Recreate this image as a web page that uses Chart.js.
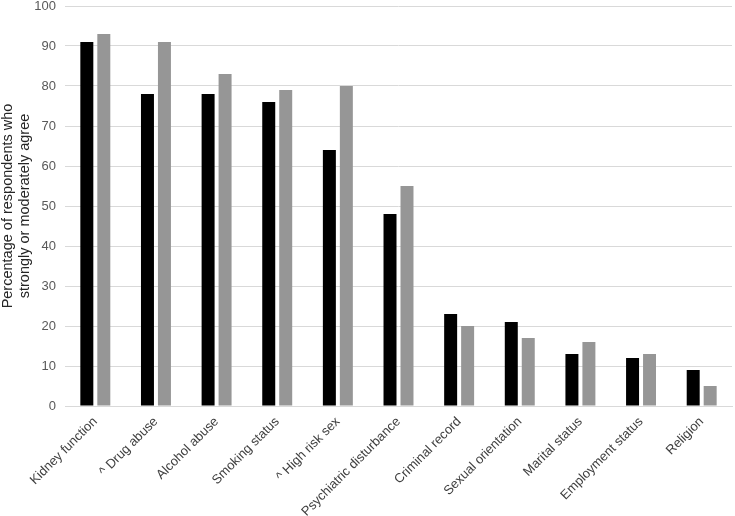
<!DOCTYPE html>
<html>
<head>
<meta charset="utf-8">
<script src="https://cdn.jsdelivr.net/npm/chart.js@4/dist/chart.umd.min.js"></script>
<style>
html,body{margin:0;padding:0;background:#fff;}
#wrap{width:735px;height:516px;}
</style>
</head>
<body>
<div id="wrap"><canvas id="c" width="735" height="516"></canvas></div>
<script>
const categories = ["Kidney function", "^ Drug abuse", "Alcohol abuse", "Smoking status", "^ High risk sex", "Psychiatric disturbance", "Criminal record", "Sexual orientation", "Marital status", "Employment status", "Religion"];
const seriesBlack = [91, 78, 78, 76, 64, 48, 23, 21, 13, 12, 9];
const seriesGray = [93, 91, 83, 79, 80, 55, 20, 17, 16, 13, 5];
const yTitle = ["Percentage of respondents who", "strongly or moderately agree"];

const FONT = 'Liberation Sans, Arial, sans-serif';

new Chart(document.getElementById('c'), {
  type: 'bar',
  data: {
    labels: categories,
    datasets: [
      { label: 'Series 1', data: seriesBlack, backgroundColor: '#000000', categoryPercentage: 0.56, barPercentage: 0.765 },
      { label: 'Series 2', data: seriesGray, backgroundColor: '#969696', categoryPercentage: 0.56, barPercentage: 0.765 }
    ]
  },
  options: {
    responsive: false,
    animation: false,
    layout: { padding: { top: 0, right: 3, bottom: 0, left: 0 } },
    plugins: { legend: { display: false }, tooltip: { enabled: false } },
    scales: {
      x: {
        grid: { display: false },
        border: { color: '#d9d9d9' },
        afterFit: function(s) { s.height = 110; },
        ticks: {
          minRotation: 45, maxRotation: 45, autoSkip: false, padding: 0,
          color: '#404040',
          font: { family: FONT, size: 13 }
        }
      },
      y: {
        min: 0, max: 100,
        grid: { color: '#d9d9d9', drawTicks: false },
        border: { display: false },
        afterFit: function(s) { s.width = 65; s.paddingTop = 6; s.paddingBottom = 0; },
        ticks: {
          stepSize: 10, padding: 9,
          color: '#595959',
          font: { family: FONT, size: 13 }
        },
        title: {
          display: true, text: yTitle,
          color: '#262626',
          font: { family: FONT, size: 14.5, lineHeight: 1.15 },
          padding: { top: 0, bottom: 2 }
        }
      }
    }
  }
});
</script>
</body>
</html>
